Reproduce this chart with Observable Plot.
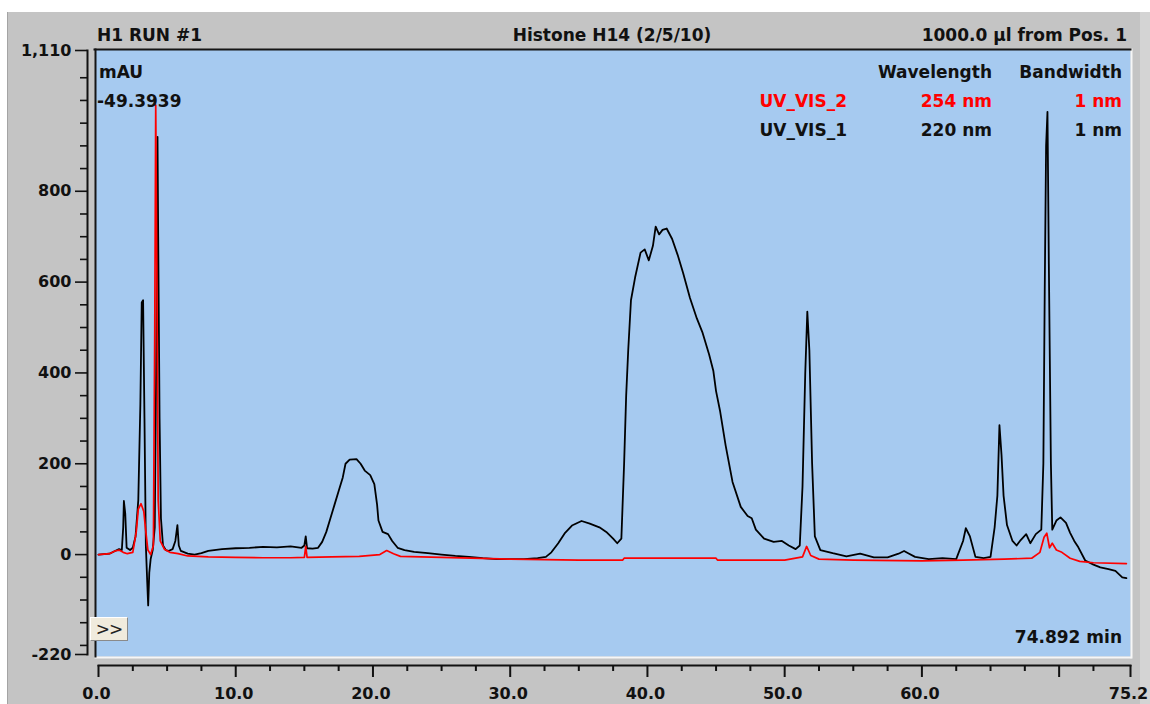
<!DOCTYPE html>
<html><head><meta charset="utf-8">
<script src="https://cdn.jsdelivr.net/npm/d3@7"></script>
<script src="https://cdn.jsdelivr.net/npm/@observablehq/plot@0.6"></script>
<style>
html,body{margin:0;padding:0;background:#fff;overflow:hidden}
#wrap{position:relative;width:1150px;height:704px;background:#fff;font-family:"DejaVu Sans",sans-serif;font-weight:bold;color:#111}
#panel{position:absolute;left:7px;top:12px;width:1133px;height:692px;background:#c4c4c4;border-left:1px solid #a4a4a4;box-sizing:border-box}
#rstrip{position:absolute;left:1140px;top:12px;width:10px;height:692px;background:#d4d4d4}
#chart{position:absolute;left:0;top:0}
.t{position:absolute;font-size:17px;line-height:17px;white-space:nowrap}
#btn{position:absolute;left:90px;top:617px;width:38px;height:24px;box-sizing:border-box;background:#f0ebdd;border:1px solid #fff;border-right-color:#8a8a8a;border-bottom-color:#8a8a8a;font-size:17px;font-weight:normal;line-height:22px;text-align:center;color:#222;letter-spacing:-1px}
</style></head>
<body>
<div id="wrap">
  <div id="panel"></div>
  <div id="rstrip"></div>
  <div id="chart"></div>
</div>
<script>
// ---- data ----
const headerTexts = ["H1 RUN #1", "Histone H14 (2/5/10)", "1000.0 µl from Pos. 1"];
const unitLabel = "mAU";
const cursorValue = "-49.3939";
const retentionLabel = "74.892 min";
const legendHeads = ["Wavelength", "Bandwidth"];
const channelNames = ["UV_VIS_2", "UV_VIS_1"];
const wavelengths = ["254 nm", "220 nm"];
const bandwidths = ["1 nm", "1 nm"];
const channelColors = ["#ff0000", "#000000"];

const xLabeled = [0, 10, 20, 30, 40, 50, 60, 75.2];
const xMajor = [0, 10, 20, 30, 40, 50, 60, 70, 75.2];
const xMinor = [2.5,5,7.5,12.5,15,17.5,22.5,25,27.5,32.5,35,37.5,42.5,45,47.5,52.5,55,57.5,62.5,65,67.5,72.5];
const yLabeled = [-220, 0, 200, 400, 600, 800, 1110];
const yMinor = [-200,-150,-100,-50,50,100,150,250,300,350,450,500,550,650,700,750,850,900,950,1000,1050];

// UV_VIS_1 (220 nm, black)
const blackT = [0.0,0.8,1.2,1.5,1.7,1.8,1.85,1.95,2.05,2.3,2.5,2.7,2.9,3.05,3.15,3.25,3.35,3.45,3.55,3.62,3.7,3.8,3.95,4.1,4.2,4.3,4.35,4.45,4.55,4.7,4.9,5.1,5.4,5.6,5.75,5.85,6.0,6.5,7.0,7.5,8.0,9.0,10.0,11.0,12.0,13.0,14.0,14.8,15.0,15.1,15.2,15.6,16.0,16.3,16.6,16.9,17.2,17.5,17.8,18.0,18.3,18.8,19.1,19.4,19.8,20.1,20.3,20.4,20.7,21.1,21.4,21.8,22.3,23.0,24.0,25.0,26.0,27.0,28.0,29.0,30.0,31.0,32.0,32.6,33.0,33.5,34.0,34.5,35.2,35.8,36.5,37.0,37.5,37.8,38.1,38.3,38.45,38.6,38.8,39.1,39.5,39.8,40.1,40.4,40.6,40.85,41.1,41.4,41.8,42.2,42.6,43.1,43.6,44.0,44.5,44.8,45.0,45.3,45.7,46.2,46.8,47.3,47.6,47.9,48.5,49.2,49.8,50.3,50.8,51.1,51.3,51.5,51.65,51.8,52.0,52.2,52.6,53.5,54.5,55.5,56.5,57.5,58.3,58.7,59.0,59.5,60.5,61.5,62.5,63.0,63.2,63.5,63.9,64.5,65.0,65.3,65.5,65.65,65.8,65.95,66.2,66.6,66.9,67.2,67.6,67.9,68.3,68.7,68.85,68.95,69.05,69.15,69.25,69.4,69.5,69.8,70.1,70.5,70.8,71.1,71.4,71.9,72.5,73.0,73.6,74.1,74.6,74.9];
const blackV = [0,2,8,12,10,60,118,90,15,10,15,40,120,330,555,560,300,20,-60,-112,-40,-10,10,60,400,920,700,300,80,20,10,8,12,30,65,20,8,2,0,3,8,12,14,15,17,16,18,15,20,40,14,13,15,28,50,80,110,140,170,200,209,210,200,185,175,155,110,75,50,45,30,15,10,6,3,0,-3,-5,-8,-10,-10,-10,-8,-5,5,25,48,64,74,68,60,50,35,25,35,200,350,450,560,610,665,672,648,680,722,705,715,718,695,660,620,565,520,490,440,405,360,315,240,160,105,85,80,55,35,28,30,20,12,20,150,400,535,450,200,40,10,3,-4,2,-6,-6,2,8,3,-5,-10,-8,-10,30,58,40,-5,-8,-5,60,130,285,220,130,65,30,20,32,45,25,45,55,200,580,900,975,640,200,55,75,82,70,48,30,16,-13,-22,-28,-32,-36,-50,-52];

// UV_VIS_2 (254 nm, red)
const redT = [0.0,0.8,1.2,1.5,1.8,2.1,2.5,2.75,2.9,3.1,3.3,3.45,3.6,3.8,4.0,4.1,4.17,4.25,4.35,4.5,4.8,5.2,5.8,6.5,8.0,10.0,12.0,14.0,15.0,15.1,15.2,17.0,19.0,20.5,21.0,21.5,22.0,25.0,30.0,35.0,38.2,38.3,45.0,45.1,50.0,51.3,51.6,51.9,52.5,55.0,60.0,63.0,66.0,68.0,68.6,68.9,69.1,69.3,69.5,69.8,70.2,70.8,71.5,72.5,74.9];
const redV = [0,2,8,10,5,2,5,50,100,112,95,50,10,0,20,500,990,640,120,30,12,5,2,-3,-5,-6,-7,-7,-6,18,-6,-5,-4,0,9,2,-4,-6,-10,-12,-12,-8,-8,-12,-12,-5,18,-2,-10,-12,-14,-12,-10,-8,5,38,47,15,25,10,5,-8,-15,-18,-20];

const black = blackT.map((t, i) => ({t, v: blackV[i]}));
const red = redT.map((t, i) => ({t, v: redV[i]}));

const FONT = "DejaVu Sans";
const tickColor = "#111";
const yFmt = d => d3.format(",")(d).replace("\u2212", "-");

const chart = Plot.plot({
  width: 1150,
  height: 704,
  marginLeft: 98,
  marginRight: 20,
  marginTop: 50,
  marginBottom: 50,
  style: {background: "transparent", fontFamily: FONT, overflow: "visible"},
  x: {domain: [0, 75.2], axis: null},
  y: {domain: [-220, 1110], axis: null},
  marks: [
    // plot panel
    Plot.frame({fill: "#a6caf0", stroke: "none", insetLeft: -3, insetTop: -1, insetBottom: -2}),
    Plot.frame({anchor: "bottom", stroke: "#f6f6f6", strokeWidth: 2, insetLeft: -3, insetBottom: -3}),
    Plot.frame({anchor: "right", stroke: "#f6f6f6", strokeWidth: 2, insetRight: -1, insetTop: -1, insetBottom: -3}),
    Plot.frame({anchor: "top", stroke: "#151515", strokeWidth: 2, insetLeft: -4, insetTop: -1}),
    Plot.frame({anchor: "left", stroke: "#151515", strokeWidth: 2, insetLeft: -3, insetTop: -1, insetBottom: -2}),
    // y axis
    Plot.frame({anchor: "left", stroke: tickColor, strokeWidth: 2, dx: -11}),
    Plot.axisY({ticks: yLabeled, tickSize: 12, fill: "none", stroke: tickColor, strokeWidth: 1.6, dx: -11, label: null}),
    Plot.axisY({ticks: yMinor, tickSize: 7, fill: "none", stroke: tickColor, strokeWidth: 1.6, dx: -11, label: null}),
    Plot.axisY({ticks: yLabeled, tickSize: 0, tickPadding: 0, dx: -27, tickFormat: yFmt, fontSize: 16, fontWeight: "bold", fill: tickColor, label: null}),
    // x axis
    Plot.frame({anchor: "bottom", stroke: tickColor, strokeWidth: 2, dy: 11}),
    Plot.axisX({ticks: xMajor, tickSize: 12, fill: "none", stroke: tickColor, strokeWidth: 2, dy: 11, label: null}),
    Plot.axisX({ticks: xMinor, tickSize: 6, fill: "none", stroke: tickColor, strokeWidth: 2, dy: 11, label: null}),
    Plot.axisX({ticks: xLabeled, tickSize: 0, tickPadding: 0, dy: 33, dx: -2, tickFormat: d3.format(".1f"), fontSize: 16, fontWeight: "bold", fill: tickColor, label: null}),
    // traces
    Plot.line(black, {x: "t", y: "v", stroke: channelColors[1], strokeWidth: 1.8}),
    Plot.line(red, {x: "t", y: "v", stroke: channelColors[0], strokeWidth: 1.7})
  ]
});
document.getElementById("chart").append(chart);

// ---- text overlay ----
const wrap = document.getElementById("wrap");
function addText(txt, baseline, pos, color) {
  const d = document.createElement("div");
  d.className = "t";
  d.textContent = txt;
  d.style.top = (baseline - 14.4) + "px";
  if (pos.left != null) d.style.left = pos.left + "px";
  if (pos.right != null) d.style.right = (1150 - pos.right) + "px";
  if (pos.center != null) { d.style.left = pos.center + "px"; d.style.transform = "translateX(-50%)"; }
  if (color) d.style.color = color;
  wrap.append(d);
}
addText(headerTexts[0], 41, {left: 97});
addText(headerTexts[1], 41, {center: 612});
addText(headerTexts[2], 41, {right: 1127});
addText(unitLabel, 78, {left: 99});
addText(cursorValue, 107, {left: 97});
addText(legendHeads[0], 78, {right: 992});
addText(legendHeads[1], 78, {right: 1122});
channelNames.forEach((name, i) => {
  const b = 107 + i * 29.5;
  const c = i === 0 ? channelColors[0] : "#111";
  addText(name, b, {right: 847}, c);
  addText(wavelengths[i], b, {right: 992}, c);
  addText(bandwidths[i], b, {right: 1122}, c);
});
addText(retentionLabel, 643, {right: 1122});
const btn = document.createElement("div");
btn.id = "btn";
btn.textContent = ">>";
wrap.append(btn);
</script>
</body></html>
